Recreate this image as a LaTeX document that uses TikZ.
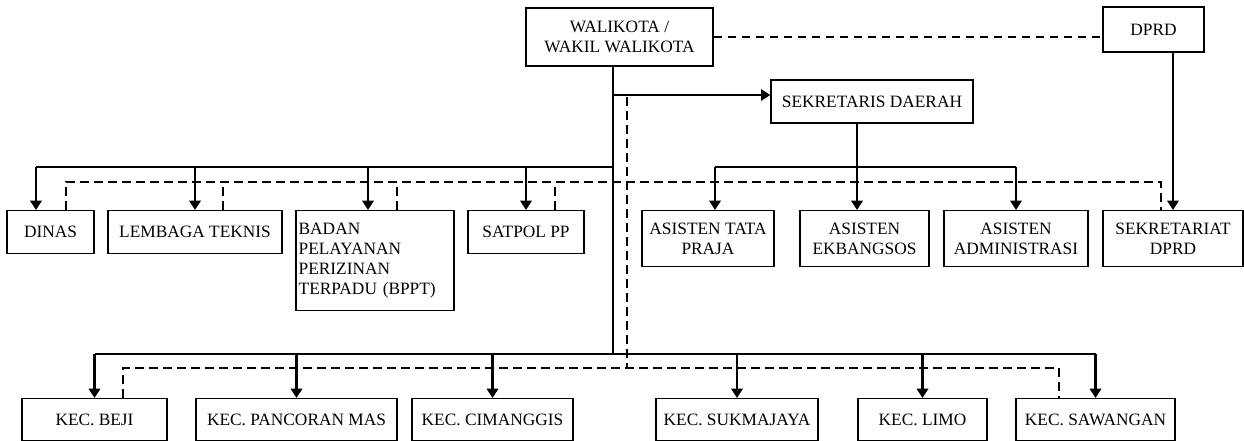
\documentclass[tikz,border=0pt]{standalone}
\usepackage{fontspec}
\setmainfont{Liberation Serif}
\usetikzlibrary{arrows.meta}

\begin{document}
\begin{tikzpicture}[x=0.75pt, y=-0.75pt,
        kotak/.style={draw, line width=1pt, font=\fontsize{13}{15}\selectfont, align=center, inner sep=2pt},
        garis/.style={line width=1.5pt},
        panah/.style={line width=2.1pt, -{Triangle[length=7pt, width=8.5pt]}},
        putus/.style={line width=2.1pt, dash pattern=on 6.5pt off 4pt}]
        \useasboundingbox (0,0) rectangle (1244,441);

        % 顶部
        \node[kotak, minimum width=140.25pt, minimum height=43.5pt] (wk) at (619.5,37) {WALIKOTA /\\WAKIL WALIKOTA};
        \node[kotak, minimum width=75.75pt, minimum height=33.75pt] (dprd) at (1153.5,29.5) {DPRD};
        \node[kotak, minimum width=151.5pt, minimum height=32.25pt] (sekda) at (872,101.5) {SEKRETARIS DAERAH};

        % 第二层
        \foreach \n/\x/\w/\t in {dinas/50.5/65.25/DINAS, lembaga/195/130.5/LEMBAGA TEKNIS, satpol/526/87/SATPOL PP} {
            \node[kotak, anchor=north, minimum width=\w pt, minimum height=32.25pt] (\n) at (\x,210) {\t};
        }
        \node[kotak, anchor=north, minimum height=75pt, text width=114.5pt, align=left] (badan) at (375,210) {BADAN\\PELAYANAN\\PERIZINAN\\TERPADU (BPPT)};
        \foreach \n/\x/\w/\t in {tata/708/99/ASISTEN TATA\\PRAJA, ekb/864.5/96.75/ASISTEN\\EKBANGSOS, admin/1016/108/ASISTEN\\ADMINISTRASI, sekret/1173/105/SEKRETARIAT\\DPRD} {
            \node[kotak, anchor=north, minimum width=\w pt, minimum height=42pt] (\n) at (\x,210) {\t};
        }

        % 第三层
        \foreach \n/\x/\w/\t in {beji/94.5/108.75/KEC. BEJI, pancoran/296.5/150.75/KEC. PANCORAN MAS, cimanggis/492.5/120.75/KEC. CIMANGGIS, sukma/737/121.5/KEC. SUKMAJAYA, limo/922.5/96.75/KEC. LIMO, sawangan/1095.5/119.25/KEC. SAWANGAN} {
            \node[kotak, anchor=north, minimum width=\w pt, minimum height=31.5pt] (\n) at (\x,398) {\t};
        }

        % 连线
        \coordinate (cabang) at (613,95);
        \coordinate (atas) at (613,167);
        \coordinate (bawah) at (613,354);
        \coordinate (putusT) at (627,97);
        \coordinate (putusA) at (627,182);
        \coordinate (putusB) at (627,368);
        \coordinate (dinasP) at ([xshift=-10.9pt]dinas.north);
        \coordinate (dinasQ) at ([xshift=11.6pt]dinas.north);
        \coordinate (badanP) at ([xshift=-5.25pt]badan.north);
        \coordinate (tataP) at ([xshift=5.25pt]tata.north);
        \coordinate (ekbP) at ([xshift=-5.6pt]ekb.north);
        \coordinate (sekretQ) at ([xshift=-9pt]sekret.north);
        \coordinate (bejiQ) at ([xshift=21.4pt]beji.north);
        \coordinate (sawanganQ) at ([xshift=-27.4pt]sawangan.north);

        \draw[putus] (wk.east) -- (wk.east -| dprd.west);
        \draw[garis] (wk.south -| cabang) -- (bawah);
        \draw[panah] (cabang) -- (cabang -| sekda.west);
        \draw[panah] (sekret.north |- dprd.south) -- (sekret.north);

        % 上面的分支
        \draw[garis] (dinasP |- atas) -- (atas);
        \foreach \n in {dinasP, lembaga.north, badanP, satpol.north} {
            \draw[panah] (\n |- atas) -- (\n);
        }
        \draw[panah] (ekbP |- sekda.south) -- (ekbP);
        \draw[garis] (tataP |- atas) -- (admin.north |- atas);
        \draw[panah] (tataP |- atas) -- (tataP);
        \draw[panah] (admin.north |- atas) -- (admin.north);

        % 虚线
        \draw[putus] (dinasQ) |- (putusA) -| (sekretQ);
        \foreach \n/\d in {lembaga/21pt, badan/16.5pt, satpol/21.75pt} {
            \draw[putus] ([xshift=\d]\n.north) -- ([xshift=\d]\n.north |- putusA);
        }
        \draw[putus] (putusT) -- (putusB);
        \draw[putus] (bejiQ) |- (putusB) -| (sawanganQ);

        % 下面的分支
        \draw[garis] (beji.north |- bawah) -- (sawangan.north |- bawah);
        \foreach \n in {beji, pancoran, cimanggis, sukma, limo, sawangan} {
            \draw[panah] (\n.north |- bawah) -- (\n.north);
        }
    \end{tikzpicture}
\end{document}
